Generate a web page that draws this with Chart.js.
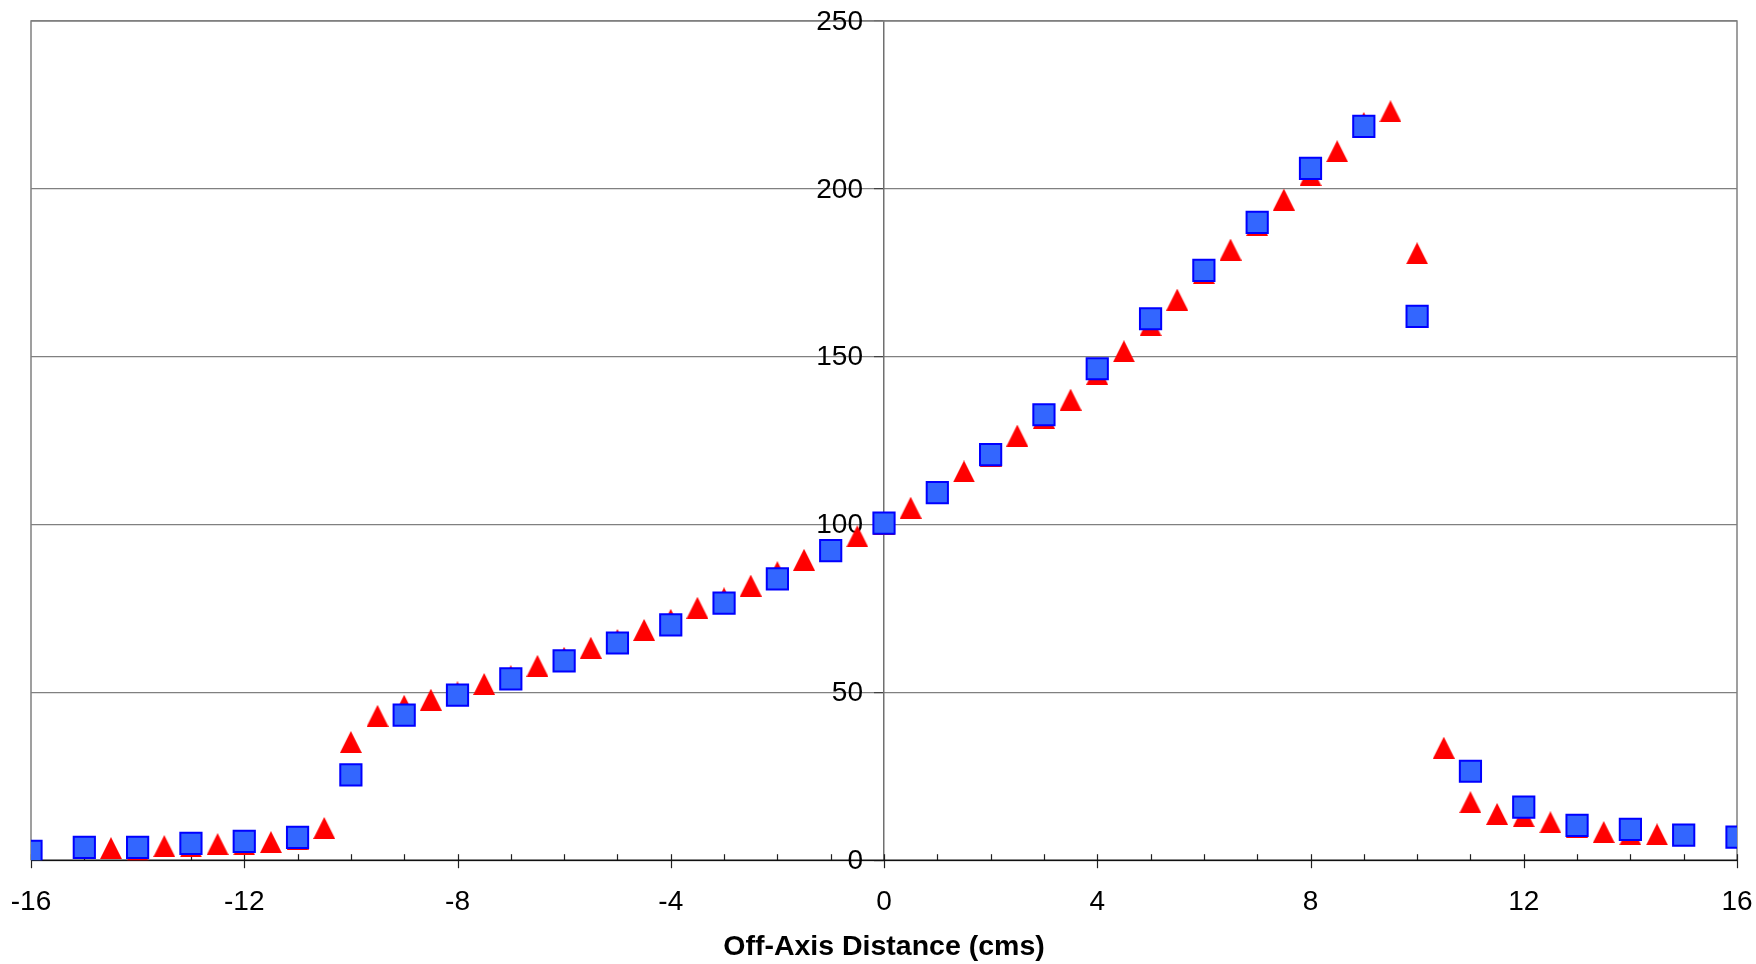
<!DOCTYPE html>
<html>
<head>
<meta charset="utf-8">
<title>Off-Axis Profile</title>
<script src="https://cdn.jsdelivr.net/npm/chart.js@4.4.1/dist/chart.umd.min.js"></script>
<style>
    html, body { margin: 0; padding: 0; background: #ffffff; }
    .chart-wrap { position: relative; width: 1756px; height: 964px; }
</style>
</head>
<body>
<div class="chart-wrap">
    <canvas id="profileChart"></canvas>
</div>
<script>
// Square markers: one reading per whole centimetre
const squareX = [-16, -15, -14, -13, -12, -11, -10, -9, -8, -7, -6, -5, -4, -3, -2, -1,
    0, 1, 2, 3, 4, 5, 6, 7, 8, 9, 10, 11, 12, 13, 14, 15, 16];
const squareY = [2.6, 3.8, 3.8, 5.0, 5.6, 6.8, 25.4, 43.2, 49.2, 54.0, 59.4, 64.7, 70.1, 76.6, 83.8, 92.2,
    100.4, 109.5, 120.8, 132.7, 146.4, 161.3, 175.7, 190.0, 206.1, 218.6, 162.0, 26.5, 15.8, 10.4, 9.2, 7.5, 6.9];

// Triangle markers: one reading per half centimetre
const triangleX = [-14.5, -14, -13.5, -13, -12.5, -12, -11.5, -11, -10.5, -10, -9.5, -9, -8.5, -8,
    -7.5, -7, -6.5, -6, -5.5, -5, -4.5, -4, -3.5, -3, -2.5, -2, -1.5, -1, -0.5,
    0, 0.5, 1, 1.5, 2, 2.5, 3, 3.5, 4, 4.5, 5, 5.5, 6, 6.5, 7, 7.5, 8, 8.5, 9, 9.5,
    10, 10.5, 11, 11.5, 12, 12.5, 13, 13.5, 14, 14.5];
const triangleY = [3.6, 2.9, 4.2, 4.1, 4.8, 4.7, 5.4, 6.3, 9.6, 35.2, 43.0, 46.0, 47.8, 50.0,
    52.5, 54.8, 57.9, 60.3, 63.3, 65.6, 68.6, 71.6, 75.2, 78.0, 81.8, 85.8, 89.5, 92.4, 96.5,
    100.3, 105.0, 109.3, 115.8, 120.5, 126.5, 131.8, 137.2, 144.9, 151.6, 159.4, 167.0, 174.9, 181.9, 189.2, 196.8, 204.1, 211.2, 219.6, 223.1,
    180.8, 33.5, 17.3, 13.8, 13.1, 11.3, 10.0, 8.4, 7.7, 7.7];

// Axis ranges and labelled ticks
const xMin = -16;
const xMax = 16;
const xLabelTicks = [-16, -12, -8, -4, 0, 4, 8, 12, 16];
const yTicks = [0, 50, 100, 150, 200, 250];

const AXIS_FONT = 'Liberation Sans, Arial, sans-serif';

function toPoints(xs, ys) {
    return xs.map((x, i) => ({ x: x, y: ys[i] }));
}

// Solid red triangle whose box is centred on the point
function makeTriangle(w, h, color) {
    const c = document.createElement('canvas');
    c.width = w;
    c.height = h;
    const g = c.getContext('2d');
    g.fillStyle = color;
    g.beginPath();
    g.moveTo(w / 2, 0);
    g.lineTo(w, h);
    g.lineTo(0, h);
    g.closePath();
    g.fill();
    return c;
}

// Plot frame, x-axis tick marks and the value labels beside the centre axis,
// all drawn under the markers
const frameAndTicks = {
    id: 'frameAndTicks',
    beforeDatasetsDraw(chart) {
        const ctx = chart.ctx;
        const area = chart.chartArea;
        const xs = chart.scales.x;
        const ys = chart.scales.y;
        ctx.save();
        ctx.strokeStyle = '#808080';
        ctx.lineWidth = 1.5;
        ctx.beginPath();
        ctx.moveTo(area.left, area.bottom);
        ctx.lineTo(area.left, area.top);
        ctx.lineTo(area.right, area.top);
        ctx.lineTo(area.right, area.bottom);
        ctx.stroke();

        ctx.strokeStyle = '#202020';
        ctx.lineWidth = 1.2;
        for (let v = xMin; v <= xMax; v++) {
            const px = Math.round(xs.getPixelForValue(v)) + 0.5;
            const major = xLabelTicks.includes(v);
            ctx.beginPath();
            ctx.moveTo(px, area.bottom - 6);
            ctx.lineTo(px, area.bottom + (major ? 8 : 0));
            ctx.stroke();
        }

        ctx.strokeStyle = '#111111';
        ctx.lineWidth = 1.5;
        ctx.beginPath();
        ctx.moveTo(area.left, area.bottom);
        ctx.lineTo(area.right, area.bottom);
        ctx.stroke();

        const axisX = xs.getPixelForValue(0);
        ctx.fillStyle = '#000000';
        ctx.font = '28px ' + AXIS_FONT;
        ctx.textAlign = 'right';
        ctx.textBaseline = 'middle';
        yTicks.forEach(v => {
            ctx.fillText(String(v), axisX - 21, ys.getPixelForValue(v) + 1);
        });
        ctx.restore();
    }
};

function initProfileChart() {
    const ctx = document.getElementById('profileChart').getContext('2d');
    new Chart(ctx, {
        type: 'scatter',
        data: {
            datasets: [{
                label: 'Squares',
                data: toPoints(squareX, squareY),
                pointStyle: 'rect',
                pointRadius: 15,
                pointHoverRadius: 15,
                pointBorderWidth: 2,
                pointBorderColor: '#0000ff',
                pointBackgroundColor: '#3366ff',
                order: 0
            }, {
                label: 'Triangles',
                data: toPoints(triangleX, triangleY),
                pointStyle: makeTriangle(22, 22, '#ff0000'),
                pointRadius: 11,
                order: 1
            }]
        },
        plugins: [frameAndTicks],
        options: {
            responsive: true,
            maintainAspectRatio: false,
            animation: false,
            events: [],
            layout: {
                padding: { left: 31, right: 19, top: 21, bottom: 0 }
            },
            plugins: {
                legend: { display: false },
                tooltip: { enabled: false }
            },
            scales: {
                x: {
                    type: 'linear',
                    min: xMin,
                    max: xMax,
                    grid: {
                        display: true,
                        drawOnChartArea: false,
                        drawTicks: true,
                        tickLength: 25,
                        color: 'rgba(0,0,0,0)'
                    },
                    border: { display: false },
                    afterBuildTicks: (scale) => {
                        scale.ticks = xLabelTicks.map(v => ({ value: v }));
                    },
                    ticks: {
                        autoSkip: false,
                        maxRotation: 0,
                        padding: 0,
                        color: '#000000',
                        font: { family: AXIS_FONT, size: 28 }
                    },
                    title: {
                        display: true,
                        text: 'Off-Axis Distance (cms)',
                        color: '#000000',
                        font: { family: AXIS_FONT, size: 28.5, weight: 'bold' },
                        padding: { top: 11, bottom: 0 }
                    }
                },
                y: {
                    type: 'linear',
                    position: { x: 0 },
                    min: 0,
                    max: 250,
                    afterBuildTicks: (scale) => {
                        scale.ticks = yTicks.map(v => ({ value: v }));
                    },
                    grid: {
                        color: '#808080',
                        lineWidth: 1.2,
                        tickLength: 9,
                        tickColor: '#404040'
                    },
                    border: { display: true, color: '#707070', width: 1.5 },
                    ticks: { display: false }
                }
            }
        }
    });
}

document.addEventListener('DOMContentLoaded', function() {
    initProfileChart();
});
</script>
</body>
</html>
